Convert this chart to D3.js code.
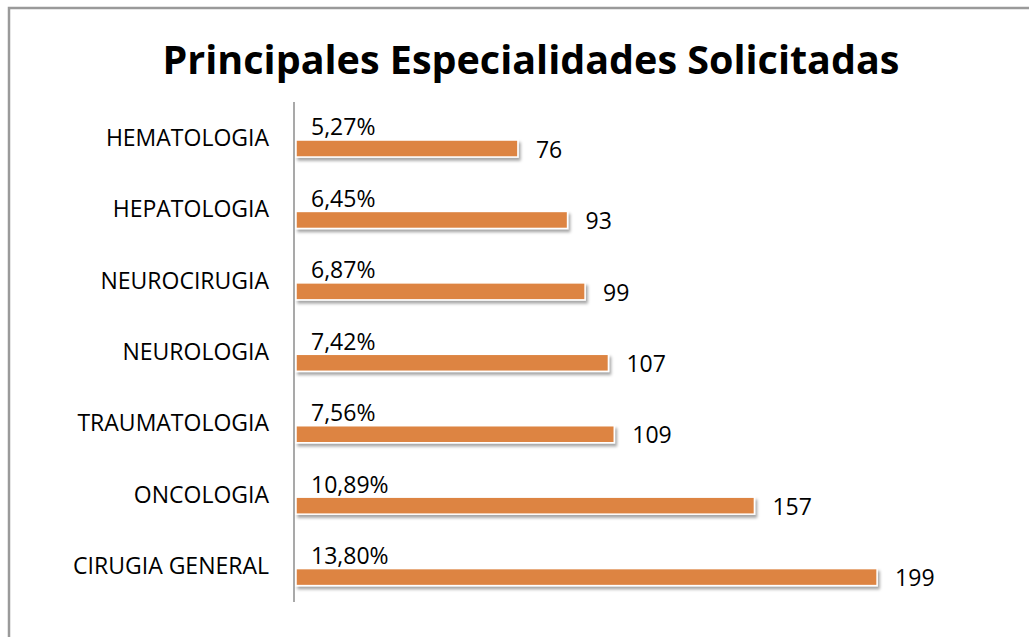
<!doctype html>
<html>
    <head>
        <meta charset="utf-8">
        <script src="https://d3js.org/d3.v7.min.js"></script>
        <style type="text/css">
            body {
                margin:0;
                background:#fff;
            }
            svg {
                display:block;
            }
            text {
                font-family:"Open Sans",sans-serif;
                fill:#000;
            }
            .title {
                font-weight:bold;
                font-size:39.5px;
            }
            .cat, .lbl {
                font-size:23px;
            }
        </style>
    </head>
    <body>
        <script>
            //chart data
            var categories = ["HEMATOLOGIA","HEPATOLOGIA","NEUROCIRUGIA","NEUROLOGIA","TRAUMATOLOGIA","ONCOLOGIA","CIRUGIA GENERAL"];
            var counts = [76,93,99,107,109,157,199];
            var percents = ["5,27%","6,45%","6,87%","7,42%","7,56%","10,89%","13,80%"];

            var width = 1029, height = 637;

            var svg = d3.select("body").append("svg")
                .attr("width",width)
                .attr("height",height);

            //drop shadow for the bars
            var filter = svg.append("defs").append("filter")
                .attr("id","shadow")
                .attr("x","-5%").attr("y","-40%")
                .attr("width","115%").attr("height","200%");
            filter.append("feDropShadow")
                .attr("dx",2).attr("dy",3)
                .attr("stdDeviation",1.8)
                .attr("flood-color","#000")
                .attr("flood-opacity",0.35);

            //chart border
            svg.append("rect")
                .attr("x",9).attr("y",8)
                .attr("width",1040).attr("height",650)
                .attr("fill","#fff")
                .attr("stroke","#9a9a9a")
                .attr("stroke-width",2.5);

            svg.append("text")
                .attr("class","title")
                .attr("x",531).attr("y",74)
                .attr("text-anchor","middle")
                .text("Principales Especialidades Solicitadas");

            //scales - the first sub band holds the (invisible) percent series
            var y = d3.scaleBand().domain(categories).range([102,602]);
            var sub = d3.scaleBand().domain(["pct","n"]).range([0,y.bandwidth()]).paddingInner(0.213).paddingOuter(0.759);
            var x = d3.scaleLinear().domain([0,200]).range([296,880]);

            var rows = categories.map(function(c,i) {
                return {cat:c, n:counts[i], pct:percents[i]};
            });

            //category labels
            svg.append("g").selectAll("text")
                .data(rows)
                .enter()
                .append("text")
                .attr("class","cat")
                .attr("x",269)
                .attr("y",function(d) { return y(d.cat)+y.bandwidth()/2; })
                .attr("dy","0.35em")
                .attr("text-anchor","end")
                .text(function(d) { return d.cat; });

            //bars
            svg.append("g").selectAll("rect")
                .data(rows)
                .enter()
                .append("rect")
                .attr("x",x(0))
                .attr("y",function(d) { return y(d.cat)+sub("n"); })
                .attr("width",function(d) { return x(d.n)-x(0); })
                .attr("height",sub.bandwidth())
                .attr("fill","#dd8442")
                .attr("stroke","#fff")
                .attr("stroke-width",1.5)
                .attr("filter","url(#shadow)");

            //axis line
            svg.append("line")
                .attr("x1",294).attr("x2",294)
                .attr("y1",102).attr("y2",602)
                .attr("stroke","#8c8c8c")
                .attr("stroke-width",1.5);

            //count labels
            svg.append("g").selectAll("text")
                .data(rows)
                .enter()
                .append("text")
                .attr("class","lbl")
                .attr("x",function(d) { return x(d.n)+18; })
                .attr("y",function(d) { return y(d.cat)+sub("n")+sub.bandwidth()/2; })
                .attr("dy","0.4em")
                .text(function(d) { return d.n; });

            //percent labels
            svg.append("g").selectAll("text")
                .data(rows)
                .enter()
                .append("text")
                .attr("class","lbl")
                .attr("x",311)
                .attr("y",function(d) { return y(d.cat)+sub("pct")+sub.bandwidth(); })
                .text(function(d) { return d.pct; });
        </script>
    </body>
</html>
